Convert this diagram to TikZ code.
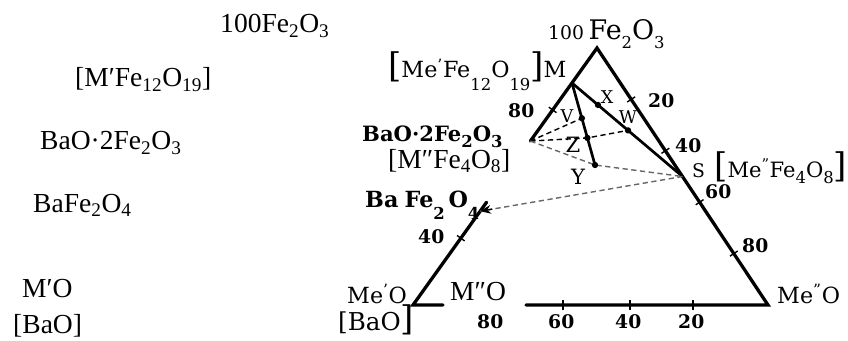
\documentclass[tikz,border=0pt]{standalone}
\usepackage{fontspec}
\setmainfont{Liberation Serif}
\newfontfamily\scanfont{DejaVu Serif}
\usetikzlibrary{arrows.meta,positioning,calc}
\tikzset{
  edgeln/.style={line width=2.8pt, line cap=round, line join=miter},
  joinln/.style={line width=2.3pt, line cap=round},
  tieln/.style={dash pattern=on 4.5pt off 3pt, line width=1.2pt},
  tickln/.style={line width=1.2pt},
  scanlbl/.style={font=\scanfont\fontsize{19}{20}\selectfont, inner sep=0pt, anchor=base west},
  boldlbl/.style={scanlbl, font=\scanfont\bfseries\fontsize{18}{20}\selectfont},
  numlbl/.style={font=\scanfont\bfseries\fontsize{16}{17}\selectfont, inner sep=0pt, anchor=base west},
  ptlbl/.style={font=\scanfont\fontsize{15}{16}\selectfont, inner sep=0pt},
  overlbl/.style={font=\fontsize{23.5}{25}\selectfont, inner sep=0pt, anchor=base west},
}
\newcommand{\phasedot}[1]{%
  \fill (#1) circle (2.7pt);
}
\newcommand{\sbig}[1]{{\fontsize{29}{29}\selectfont #1}}
\newcommand{\scsub}[2][-0.6ex]{\raisebox{#1}{\fontsize{14}{14}\selectfont #2}}

\begin{document}
\begin{tikzpicture}[x=0.03cm, y=-0.03cm]
    \useasboundingbox (0,0) rectangle (848,341);
    % --- corners and phase points ---
    \coordinate (A) at (597,48);
    \coordinate (L) at (413,305);
    \coordinate (R) at (768,305);
    \coordinate (M) at ($(A)!0.136!(L)$);
    \coordinate (P2) at ($(A)!0.362!(L)$);
    \coordinate (Ltop) at ($(A)!0.6!(L)$);
    \coordinate (P1) at ($(A)!0.635!(L)$);
    \coordinate (S) at ($(A)!0.5!(R)$);
    \coordinate (X) at ($(M)!0.235!(S)$);
    \coordinate (W) at ($(M)!0.507!(S)$);
    \coordinate (Y) at (595,165);
    \coordinate (V) at ($(M)!0.43!(Y)$);
    \coordinate (Z) at ($(M)!0.67!(Y)$);
    \coordinate (gapl) at (443,305);
    \coordinate (gapr) at (526,305);
    % --- triangle ---
    \draw[edgeln] (P2) -- (A) -- (R) -- (gapr);
    \draw[edgeln] (gapl) -- (L) -- (Ltop);
    \foreach \t in {0.2,0.4,0.6,0.8}{
      \coordinate (tk) at ($(A)!\t!(R)$);
      \draw[tickln] ($(tk)!4pt!90:(R)$) -- ($(tk)!4pt!-90:(R)$);
    }
    \foreach \t in {0.241,0.74}{
      \coordinate (tk) at ($(A)!\t!(L)$);
      \draw[tickln] ($(tk)!4pt!90:(L)$) -- ($(tk)!4pt!-90:(L)$);
    }
    \foreach \x in {563,630,693}{
      \draw[tickln] (\x,300) -- (\x,310);
    }
    % --- joins and tie lines ---
    \draw[joinln] (M) -- (S);
    \draw[joinln] (M) -- (Y);
    \draw[tieln] (P2) -- (V);
    \draw[tieln] (P2) -- (Z) -- (W);
    \draw[tieln, black!60] (P2) -- (Y) -- (S);
    \draw[tieln, black!60] (S) -- (P1);
    \draw[-{Stealth[length=3.2mm,width=2.6mm]}, line width=1.2pt] ($(P1)!0.06!(S)$) -- (P1);
    \foreach \p in {X,W,V,Z,Y}{
      \phasedot{\p}
    }
    % --- labels of the scan ---
    \node[scanlbl, font=\scanfont\fontsize{23}{23}\selectfont] (fetop) at (548,40) {{\fontsize{16}{16}\selectfont 100}\,Fe\scsub{2}O\scsub{3}};
    \node[scanlbl] (mlab) at (388,78) {\sbig{[}Me\textsuperscript{’}Fe\scsub[-1.1ex]{12}O\scsub[-1.1ex]{19}\sbig{]}M};
    \node[boldlbl] (ba2lab) at (362,141) {BaO·2Fe\scsub{2}O\scsub{3}};
    \node[boldlbl, font=\scanfont\bfseries\fontsize{19}{20}\selectfont] (ba1lab) at (365,207) {Ba\;Fe\scsub[-1.1ex]{2}\,O\scsub[-1.1ex]{4}};
    \node[scanlbl] (melab) at (347,303) {Me\textsuperscript{’}O};
    \node[scanlbl, font=\scanfont\fontsize{21}{22}\selectfont] (baolab) at (338,330) {[BaO\sbig{]}};
    \node[scanlbl, font=\scanfont\fontsize{16}{16}\selectfont] (slab) at (692,177) {S};
    \node[scanlbl, font=\scanfont\fontsize{18}{18}\selectfont] (splab) at (714,177) {\sbig{[}Me\textsuperscript{”}Fe\scsub{4}O\scsub{8}\sbig{]}};
    \node[scanlbl] (me2lab) at (777,303) {Me\textsuperscript{”}O};
    \node[ptlbl] (vlab) at (567,116) {V};
    \node[ptlbl] (xlab) at (607,97) {X};
    \node[ptlbl] (wlab) at (628,117) {W};
    \node[ptlbl, font=\scanfont\fontsize{18}{18}\selectfont] (zlab) at (573,145) {Z};
    \node[ptlbl, font=\scanfont\fontsize{18}{18}\selectfont] (ylab) at (578,177) {Y};
    % --- scale numbers ---
    \node[numlbl] (nl80) at (508,118) {80};
    \node[numlbl] (nl40) at (418,243) {40};
    \node[numlbl] (nr20) at (648,108) {20};
    \node[numlbl] (nr40) at (675,152) {40};
    \node[numlbl] (nr60) at (705,198) {60};
    \node[numlbl] (nr80) at (742,252) {80};
    \node[numlbl] (nb80) at (477,328) {80};
    \node[numlbl] (nb60) at (548,328) {60};
    \node[numlbl] (nb40) at (615,328) {40};
    \node[numlbl] (nb20) at (678,328) {20};
    % --- overlay labels ---
    \node[overlbl] (ofe) at (220,33) {100Fe\textsubscript{2}O\textsubscript{3}};
    \node[overlbl] (om) at (75,87) {[M′Fe\textsubscript{12}O\textsubscript{19}]};
    \node[overlbl] (oba2) at (40,150) {BaO·2Fe\textsubscript{2}O\textsubscript{3}};
    \node[overlbl] (oba1) at (33,212) {BaFe\textsubscript{2}O\textsubscript{4}};
    \node[overlbl] (ome) at (22,297) {M′O};
    \node[overlbl] (obao) at (13,333) {[BaO]};
    \node[overlbl] (osp) at (388,168) {[M″Fe\textsubscript{4}O\textsubscript{8}]};
    \node[overlbl] (ome2) at (450,300) {M″O};
  \end{tikzpicture}
\end{document}
